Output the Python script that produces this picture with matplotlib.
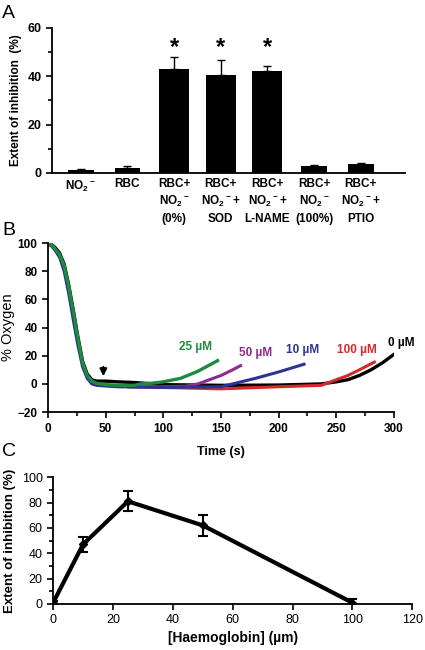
import matplotlib
matplotlib.use("Agg")
import matplotlib.pyplot as plt
from matplotlib.ticker import MultipleLocator
import numpy as np

plt.rcParams['font.family'] = ['Liberation Sans', 'DejaVu Sans']
plt.rcParams['mathtext.fontset'] = 'custom'
plt.rcParams['mathtext.rm'] = 'Liberation Sans:bold'
plt.rcParams['mathtext.bf'] = 'Liberation Sans:bold'
plt.rcParams['mathtext.default'] = 'bf'
plt.rcParams['axes.linewidth'] = 1.3

# panel A data
groups = ["NO$_2$$^-$", "RBC", "RBC+\nNO$_2$$^-$\n(0%)", "RBC+\nNO$_2$$^-$+\nSOD",
          "RBC+\nNO$_2$$^-$+\nL-NAME", "RBC+\nNO$_2$$^-$\n(100%)", "RBC+\nNO$_2$$^-$+\nPTIO"]
inhib = [1.2, 2.0, 43.0, 40.4, 42.1, 2.8, 3.7]
inhib_err = [0.3, 0.8, 5.0, 6.2, 2.2, 0.5, 0.3]
signif = [False, False, True, True, True, False, False]
star_y = 52

# panel B data (time s, % oxygen)
t_black = [0, 3, 6, 10, 14, 18, 22, 26, 30, 34, 38, 42, 50, 60, 75, 100, 150, 200, 237, 250, 260, 270, 280, 290, 300]
o_black = [100, 99, 97, 93, 85, 70, 52, 33, 16, 7, 3, 2, 2, 1.5, 1, -0.5, -1, -0.8, 0, 1.5, 3, 6, 10, 15, 21]
t_green = [0, 3, 6, 10, 14, 18, 22, 26, 30, 34, 38, 42, 50, 60, 75, 80, 90, 100, 115, 130, 147]
o_green = [100, 99, 96, 92, 84, 69, 51, 32, 15, 6, 2, 0.5, -0.5, -1, -1, 0, 0.5, 1.5, 4, 9, 16.5]
t_blue = [0, 3, 6, 10, 14, 18, 22, 26, 30, 34, 38, 42, 50, 60, 100, 150, 160, 180, 200, 222]
o_blue = [99, 98, 95, 90, 80, 64, 45, 27, 12, 4, 0, -1, -1.5, -2, -2.5, -2, 0, 4, 8.5, 14]
t_purple = [70, 100, 120, 130, 140, 150, 160, 167]
o_purple = [-2, -2, -1.5, 0, 3, 6, 10, 13]
t_red = [70, 100, 150, 200, 237, 250, 260, 270, 283]
o_red = [-2, -2.5, -3.5, -2, -1, 3, 6, 10, 15.5]

# panel C data
hb = [0, 10, 25, 50, 100]
hb_inhib = [1, 47, 81, 62, 1]
hb_err = [1.5, 6, 8, 8, 3]

fig = plt.figure(figsize=(4.25, 6.5), dpi=100)

# ---- A ----
axA = fig.add_axes([0.122, 0.734, 0.831, 0.223])
x = np.arange(len(groups))
widths = [0.55, 0.55, 0.64, 0.64, 0.64, 0.55, 0.55]
axA.bar(x, inhib, width=widths, color='black')
axA.errorbar(x, inhib, yerr=[np.zeros(len(inhib)), inhib_err], fmt='none',
             ecolor='black', elinewidth=1, capsize=2.8, capthick=1)
for i in range(len(groups)):
    if signif[i]:
        axA.text(x[i], star_y, "*", ha='center', va='center',
                 fontsize=17, fontweight='bold')
axA.set_xlim(-0.62, 6.95)
axA.set_ylim(0, 60)
axA.set_yticks([0, 20, 40, 60])
axA.yaxis.set_minor_locator(MultipleLocator(10))
axA.set_xticks(x)
axA.set_xticklabels(groups, fontsize=8.5, fontweight='bold', linespacing=1.35, va='top')
axA.tick_params(axis='x', length=0, pad=4)
axA.tick_params(axis='y', which='both', labelsize=9, width=1.2, direction='out')
axA.tick_params(axis='y', which='major', length=4)
axA.tick_params(axis='y', which='minor', length=3)
for lbl in axA.get_yticklabels():
    lbl.set_fontweight('bold')
axA.set_ylabel("Extent of inhibition  (%)", fontsize=8.5, fontweight='bold', labelpad=4)
axA.spines['top'].set_visible(False)
axA.spines['right'].set_visible(False)
fig.text(0.005, 0.973, "A", fontsize=14)

# ---- B ----
axB = fig.add_axes([0.113, 0.366, 0.814, 0.26])
axB.plot(t_black, o_black, color='black', lw=2.4)
axB.plot(t_red, o_red, color='#d42a2a', lw=2.2)
axB.plot(t_purple, o_purple, color='#8e2a90', lw=2.2)
axB.plot(t_blue, o_blue, color='#2b3592', lw=2.2)
axB.plot(t_green, o_green, color='#1e8a3e', lw=2.4)
axB.annotate("", xy=(48, 3.5), xytext=(48, 14),
             arrowprops=dict(arrowstyle='-|>', color='black', lw=1.6, mutation_scale=10))
axB.text(128, 26, "25 µM", color='#1e8a3e', fontsize=8.5, fontweight='bold', ha='center', va='center')
axB.text(180, 22, "50 µM", color='#8e2a90', fontsize=8.5, fontweight='bold', ha='center', va='center')
axB.text(221, 24, "10 µM", color='#2b3592', fontsize=8.5, fontweight='bold', ha='center', va='center')
axB.text(268, 24, "100 µM", color='#d42a2a', fontsize=8.5, fontweight='bold', ha='center', va='center')
axB.text(306, 29, "0 µM", color='black', fontsize=8.5, fontweight='bold', ha='center', va='center')
axB.set_xlim(0, 300)
axB.set_ylim(-20, 100)
axB.set_xticks(np.arange(0, 301, 50))
axB.xaxis.set_minor_locator(MultipleLocator(25))
axB.set_yticks(np.arange(-20, 101, 20))
axB.tick_params(which='both', labelsize=8.5, width=1.2, direction='out')
axB.tick_params(which='major', length=4)
axB.tick_params(which='minor', length=3)
for lbl in axB.get_xticklabels() + axB.get_yticklabels():
    lbl.set_fontweight('bold')
axB.set_xlabel("Time (s)", fontsize=9, fontweight='bold', labelpad=8)
axB.set_ylabel("% Oxygen", fontsize=10.5, labelpad=2)
axB.spines['top'].set_visible(False)
axB.spines['right'].set_visible(False)
fig.text(0.005, 0.638, "B", fontsize=14)

# ---- C ----
axC = fig.add_axes([0.125, 0.0708, 0.845, 0.195])
axC.errorbar(hb, hb_inhib, yerr=hb_err, color='black', lw=3, marker='D', markersize=4,
             ecolor='black', elinewidth=1.5, capsize=3.5, capthick=1.5)
axC.set_xlim(0, 120)
axC.set_ylim(0, 100)
axC.set_xticks(np.arange(0, 121, 20))
axC.set_yticks(np.arange(0, 101, 20))
axC.yaxis.set_minor_locator(MultipleLocator(10))
axC.tick_params(which='both', labelsize=9, width=1.2, direction='out')
axC.tick_params(which='major', length=4)
axC.tick_params(which='minor', length=3)
axC.set_xlabel("[Haemoglobin] (µm)", fontsize=10, fontweight='bold', labelpad=3)
axC.set_ylabel("Extent of inhibition (%)", fontsize=9.5, fontweight='bold', labelpad=4)
axC.spines['top'].set_visible(False)
axC.spines['right'].set_visible(False)
fig.text(0.005, 0.298, "C", fontsize=14)

fig.savefig("out.png", dpi=100)
